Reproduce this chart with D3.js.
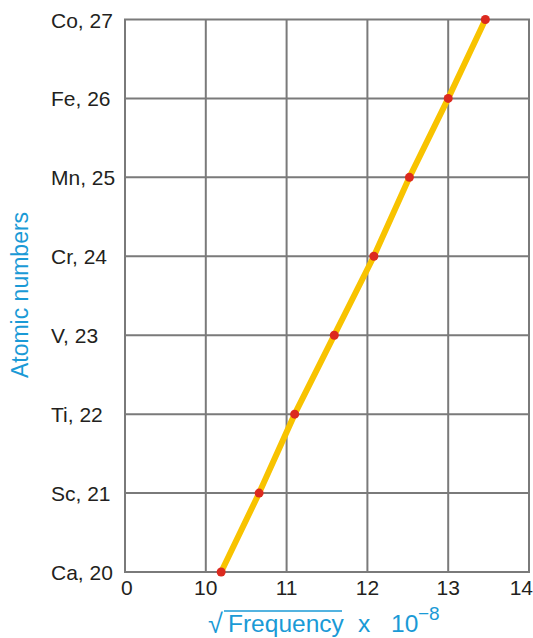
<!DOCTYPE html>
<html>
<head>
<meta charset="utf-8">
<script src="https://cdn.jsdelivr.net/npm/d3@7"></script>
<style>
  body { margin: 0; background: #fff; }
  text { font-family: "Liberation Sans", Arial, sans-serif; }
</style>
</head>
<body>
<svg id="chart"></svg>
<script>
// element labels and atomic numbers
const elements = ["Ca", "Sc", "Ti", "V", "Cr", "Mn", "Fe", "Co"];
const atomicNumbers = [20, 21, 22, 23, 24, 25, 26, 27];
// sqrt(frequency) x 10^-8
const sqrtFreq = [10.19, 10.66, 11.10, 11.59, 12.08, 12.52, 13.00, 13.46];

// x axis has a break: the "0" tick sits one grid step left of 10
const xTicks = [9, 10, 11, 12, 13, 14];
const xTickLabels = ["0", "10", "11", "12", "13", "14"];

const width = 533;
const height = 638;
const margin = { top: 19.5, right: 4, bottom: 66, left: 125 };

const svg = d3.select("#chart")
    .attr("width", width)
    .attr("height", height);

const x = d3.scaleLinear()
    .domain([9, 14])
    .range([margin.left, width - margin.right]);

const y = d3.scaleLinear()
    .domain([20, 27])
    .range([height - margin.bottom, margin.top]);

const gridColor = "#7a7a7a";

// vertical grid lines
svg.append("g")
    .selectAll("line")
    .data(xTicks)
    .enter().append("line")
    .attr("x1", d => x(d)).attr("x2", d => x(d))
    .attr("y1", y(20)).attr("y2", y(27))
    .attr("stroke", gridColor)
    .attr("stroke-width", 2);

// horizontal grid lines
svg.append("g")
    .selectAll("line")
    .data(atomicNumbers)
    .enter().append("line")
    .attr("x1", x(9) - 1).attr("x2", x(14) + 1)
    .attr("y1", d => y(d)).attr("y2", d => y(d))
    .attr("stroke", gridColor)
    .attr("stroke-width", 2);

// y tick labels
svg.append("g")
    .selectAll("text")
    .data(atomicNumbers)
    .enter().append("text")
    .attr("x", 51)
    .attr("y", d => y(d) + 8)
    .attr("font-size", 21)
    .attr("fill", "#231f20")
    .text((d, i) => elements[i] + ", " + d);

// x tick labels
svg.append("g")
    .selectAll("text")
    .data(xTicks)
    .enter().append("text")
    .attr("x", d => x(d))
    .attr("y", y(20) + 23)
    .attr("text-anchor", (d, i) => i === 0 ? "start" : i === xTicks.length - 1 ? "end" : "middle")
    .attr("dx", (d, i) => i === 0 ? -4 : i === xTicks.length - 1 ? 4 : 0)
    .attr("font-size", 21)
    .attr("fill", "#231f20")
    .text((d, i) => xTickLabels[i]);

// data line
const line = d3.line()
    .x((d, i) => x(sqrtFreq[i]))
    .y(d => y(d));

svg.append("path")
    .datum(atomicNumbers)
    .attr("d", line)
    .attr("fill", "none")
    .attr("stroke", "#f8c300")
    .attr("stroke-width", 6);

svg.append("g")
    .selectAll("circle")
    .data(atomicNumbers)
    .enter().append("circle")
    .attr("cx", (d, i) => x(sqrtFreq[i]))
    .attr("cy", d => y(d))
    .attr("r", 4.5)
    .attr("fill", "#dc2a1f");

// axis titles
const blue = "#1a9ad6";

svg.append("text")
    .attr("transform", "translate(28," + 295 + ") rotate(-90)")
    .attr("text-anchor", "middle")
    .attr("font-size", 23)
    .attr("fill", blue)
    .text("Atomic numbers");

const xTitle = svg.append("g")
    .attr("fill", blue)
    .attr("font-size", 24.5);
xTitle.append("text").attr("x", 208).attr("y", 633).attr("font-size", 27).text("\u221A");
xTitle.append("text").attr("x", 228).attr("y", 632).text("Frequency");
xTitle.append("text").attr("x", 358).attr("y", 632).text("x");
xTitle.append("text").attr("x", 391).attr("y", 632).text("10");
xTitle.append("text").attr("x", 418).attr("y", 620).attr("font-size", 19).text("\u22128");

// overline of the square root
svg.append("line")
    .attr("x1", 224).attr("x2", 342)
    .attr("y1", 611).attr("y2", 611)
    .attr("stroke", blue)
    .attr("stroke-width", 1.5);
</script>
</body>
</html>
